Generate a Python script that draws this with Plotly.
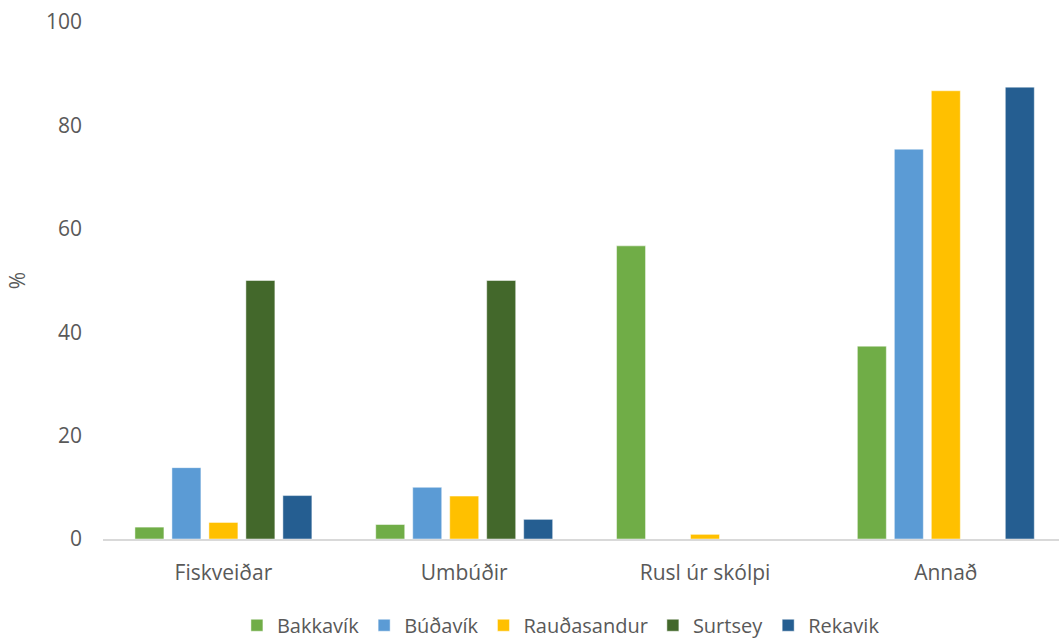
import plotly.graph_objects as go

categories = ["Fiskveiðar", "Umbúðir", "Rusl úr skólpi", "Annað"]
series_names = ["Bakkavík", "Búðavík", "Rauðasandur", "Surtsey", "Rekavik"]
bakkavik = [2.3, 2.8, 56.7, 37.3]
budavik = [13.8, 10.0, 0, 75.4]
raudasandur = [3.2, 8.3, 0.9, 86.7]
surtsey = [50.0, 50.0, 0, 0]
rekavik = [8.4, 3.8, 0, 87.4]
colors = ["#70AD47", "#5B9BD5", "#FFC000", "#43682B", "#255E91"]
y_ticks = [0, 20, 40, 60, 80, 100]

values = [bakkavik, budavik, raudasandur, surtsey, rekavik]

font_family = "Open Sans, sans-serif"
fs = 21

fig = go.Figure()
for name, vals, col in zip(series_names, values, colors):
    fig.add_trace(go.Bar(
        x=categories, y=vals, name=name,
        marker=dict(color=col, line=dict(color="rgba(255,255,255,0.6)", width=0.8)),
    ))

fig.update_layout(
    width=1059, height=638,
    margin=dict(l=103, r=0, t=22, b=99, autoexpand=False),
    paper_bgcolor="white", plot_bgcolor="white",
    barmode="group", bargap=0.232, bargroupgap=0.216,
    font=dict(family=font_family, size=fs, color="#595959"),
    showlegend=True,
    legend=dict(orientation="h", x=0.479, xanchor="center", yref="container", y=0.02, yanchor="middle",
                font=dict(size=20, color="#595959"), itemwidth=30, traceorder="normal"),
    xaxis=dict(
        type="category", range=[-0.5, 3.47],
        showline=True, linecolor="#D9D9D9", linewidth=1.5,
        showgrid=False, ticks="", ticklabelstandoff=14,
        tickfont=dict(size=fs, color="#595959"),
    ),
    yaxis=dict(
        range=[0, 100], tickvals=y_ticks, showgrid=False, zeroline=False,
        showline=False, ticks="", ticklabelstandoff=20,
        tickfont=dict(size=fs, color="#595959"),
        title=dict(text="%", font=dict(size=fs, color="#595959"), standoff=14),
    ),
)

fig.write_html("out.html")
